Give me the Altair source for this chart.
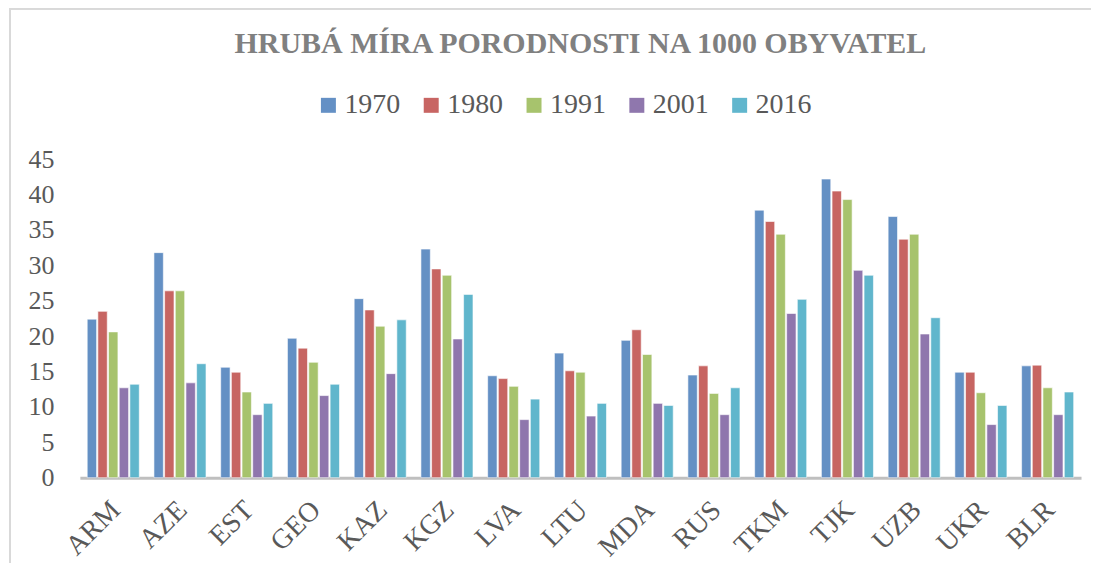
import altair as alt
import pandas as pd

countries = ["ARM", "AZE", "EST", "GEO", "KAZ", "KGZ", "LVA", "LTU", "MDA", "RUS", "TKM", "TJK", "UZB", "UKR", "BLR"]
years = ["1970", "1980", "1991", "2001", "2016"]
v1970 = [22.4, 31.8, 15.6, 19.7, 25.3, 32.3, 14.4, 17.6, 19.4, 14.5, 37.8, 42.2, 36.9, 14.9, 15.8]
v1980 = [23.5, 26.4, 14.9, 18.3, 23.7, 29.5, 14.0, 15.1, 20.9, 15.8, 36.2, 40.5, 33.7, 14.9, 15.9]
v1991 = [20.6, 26.4, 12.1, 16.3, 21.4, 28.6, 12.9, 14.9, 17.4, 11.9, 34.4, 39.3, 34.4, 12.0, 12.7]
v2001 = [12.7, 13.4, 8.9, 11.6, 14.7, 19.6, 8.2, 8.7, 10.5, 8.9, 23.2, 29.3, 20.3, 7.5, 8.9]
v2016 = [13.2, 16.1, 10.5, 13.2, 22.3, 25.9, 11.1, 10.5, 10.2, 12.7, 25.2, 28.6, 22.6, 10.2, 12.1]
colors = ["#4f81bd", "#c0504d", "#9bbb59", "#8064a2", "#4bacc6"]

rows = []
for yr, vals in zip(years, [v1970, v1980, v1991, v2001, v2016]):
    for c, v in zip(countries, vals):
        rows.append({"country": c, "year": yr, "value": v})
df = pd.DataFrame(rows)

serif = "Liberation Serif"

bars = alt.Chart(df).mark_bar(stroke="white", strokeWidth=0.6, opacity=0.88).encode(
    x=alt.X("country:N", sort=countries, title=None,
            scale=alt.Scale(paddingInner=0.22, paddingOuter=0.11),
            axis=alt.Axis(labelAngle=-45, labelFont=serif, labelFontSize=28,
                          labelColor="#595959", ticks=False, domainColor="#bfbfbf",
                          domainWidth=3, labelPadding=18, labelOffset=-7)),
    xOffset=alt.XOffset("year:N", sort=years, scale=alt.Scale(paddingInner=0.12)),
    y=alt.Y("value:Q", title=None,
            scale=alt.Scale(domain=[0, 45], nice=False),
            axis=alt.Axis(values=list(range(0, 50, 5)), grid=False, domain=False, ticks=False,
                          labelFont=serif, labelFontSize=26, labelColor="#595959",
                          labelPadding=26)),
    color=alt.Color("year:N", sort=years,
                    scale=alt.Scale(domain=years, range=colors),
                    legend=alt.Legend(title=None, orient="none", legendX=235, legendY=-68,
                                      direction="horizontal", symbolType="square",
                                      symbolSize=225, symbolStrokeWidth=0,
                                      labelFont=serif, labelFontSize=28, labelColor="#595959",
                                      columnPadding=17, labelOffset=2)),
)

frame_left = alt.Chart(df).mark_rule(color="#d9d9d9", strokeWidth=2).encode(
    x=alt.value(-70), y=alt.value(-151), y2=alt.value(420))
frame_top = alt.Chart(df).mark_rule(color="#d9d9d9", strokeWidth=2).encode(
    x=alt.value(-70), x2=alt.value(1030), y=alt.value(-151))

chart = alt.layer(frame_left, frame_top, bars).properties(
    width=1003, height=319,
    title=alt.TitleParams("HRUBÁ MÍRA PORODNOSTI NA 1000 OBYVATEL", font=serif,
                          fontSize=30, fontWeight="bold", color="#808080",
                          anchor="middle", offset=-52),
    padding={"left": 72, "top": 151, "right": 10, "bottom": 85},
    autosize=alt.AutoSizeParams(type="none"),
).configure_view(stroke=None).configure_title(limit=0)

chart.save("out.html", embed_options={"renderer": "svg", "actions": False})
